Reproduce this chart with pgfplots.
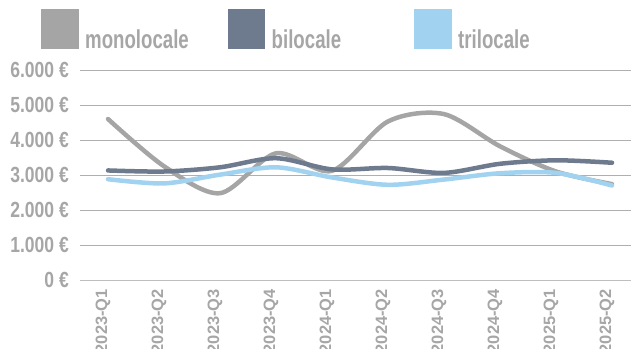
\documentclass[border=0pt]{standalone}
\usepackage{pgfplots}
\pgfplotsset{compat=1.18}
\usepackage{fontspec}
\setmainfont{Liberation Sans}
\newfontfamily\ylabfont{Liberation Sans}[FakeStretch=0.8]
\newfontfamily\legfont{Liberation Sans}[FakeStretch=0.72]
\newfontfamily\xlabfont{Liberation Sans}
\definecolor{txt}{RGB}{166,166,166}
\definecolor{gridc}{RGB}{175,175,175}
\definecolor{axc}{RGB}{190,190,190}
\definecolor{mono}{RGB}{165,165,165}
\definecolor{bi}{RGB}{110,123,143}
\definecolor{tri}{RGB}{161,211,240}
\begin{document}
\begin{tikzpicture}
\useasboundingbox (0,0) rectangle (631bp,349bp);
\clip (0,0) rectangle (631bp,349bp);
\begin{axis}[
  anchor=origin, at={(108bp,69bp)},
  x=56bp, y=0.035bp,
  xmin=-0.5, xmax=9.5, ymin=0, ymax=6000,
  axis x line*=bottom, axis y line*=left,
  x axis line style={draw=axc, line width=0.8bp},
  y axis line style={draw=none},
  xtick={0,...,9},
  xticklabels={2023-Q1,2023-Q2,2023-Q3,2023-Q4,2024-Q1,2024-Q2,2024-Q3,2024-Q4,2025-Q1,2025-Q2},
  xtick style={draw=none},
  extra x ticks={-0.5,0.5,...,9.5},
  extra x tick labels={},
  extra x tick style={tick align=outside, major tick length=5bp, tick style={draw=axc, line width=0.8bp}},
  xticklabel style={rotate=90, anchor=east, font=\xlabfont\bfseries\fontsize{16.5}{18}\selectfont, text=txt, inner sep=0pt, yshift=5bp},
  xticklabel shift=9bp,
  ytick={0,1000,...,6000},
  yticklabels={0 €,1.000 €,2.000 €,3.000 €,4.000 €,5.000 €,6.000 €},
  ytick style={draw=none},
  yticklabel style={anchor=east, font=\ylabfont\bfseries\fontsize{22}{24}\selectfont, text=txt, inner sep=0pt},
  yticklabel shift=11bp,
  ymajorgrids, grid style={draw=gridc, line width=0.8bp},
  legend columns=3,
  legend style={at={(-0.0696,1.290)}, anchor=north west, draw=none, fill=none, inner sep=0pt,
    font=\legfont\bfseries\fontsize{26}{28}\selectfont, text=txt, nodes={inner sep=0pt},
    /tikz/every odd column/.append style={column sep=6.5bp}},
  legend image code/.code={\fill[#1] (0bp,-6.5bp) rectangle (33bp,28.5bp);},
  every axis plot/.append style={line width=4.5bp, smooth, tension=0.5, line cap=round},
]
\addplot[mono] coordinates {(0,4600) (1,3250) (2,2480) (3,3620) (4,3120) (5,4530) (6,4740) (7,3820) (8,3100) (9,2740)};
\addlegendentry{\makebox[142.5bp][l]{monolocale}}
\addplot[bi] coordinates {(0,3130) (1,3100) (2,3220) (3,3480) (4,3160) (5,3200) (6,3060) (7,3320) (8,3420) (9,3350)};
\addlegendentry{\makebox[142.5bp][l]{bilocale}}
\addplot[tri] coordinates {(0,2880) (1,2760) (2,3010) (3,3220) (4,2930) (5,2720) (6,2870) (7,3050) (8,3060) (9,2700)};
\addlegendentry{\makebox[142.5bp][l]{trilocale}}
\end{axis}
\end{tikzpicture}
\end{document}
